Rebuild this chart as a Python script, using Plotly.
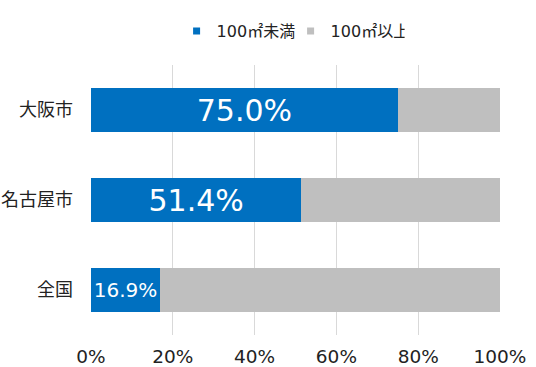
import plotly.graph_objects as go

categories = ["大阪市", "名古屋市", "全国"]
under_100 = [75.0, 51.4, 16.9]
over_100 = [25.0, 48.6, 83.1]
label_sizes = [30, 30, 20]
tick_vals = [0, 20, 40, 60, 80, 100]
tick_text = ["0%", "20%", "40%", "60%", "80%", "100%"]
series_names = ["100㎡未満", "100㎡以上"]
series_colors = ["#0070c0", "#bfbfbf"]

FONT = "DejaVu Sans, Noto Sans CJK JP"

fig = go.Figure()
fig.add_trace(go.Bar(
    y=categories, x=under_100, orientation="h", name=series_names[0],
    marker=dict(color=series_colors[0], line=dict(width=0)),
    text=[f"{v:.1f}%" for v in under_100], textposition="inside",
    insidetextanchor="middle", textangle=0, constraintext="none",
    textfont=dict(color="white", size=label_sizes, family=FONT),
    hoverinfo="skip", showlegend=False,
))
fig.add_trace(go.Bar(
    y=categories, x=over_100, orientation="h", name=series_names[1],
    marker=dict(color=series_colors[1], line=dict(width=0)),
    hoverinfo="skip", showlegend=False,
))
# legend entries with small square swatches
for name, color in zip(series_names, series_colors):
    fig.add_trace(go.Scatter(
        x=[None], y=[None], mode="markers", name=name,
        marker=dict(symbol="square", size=7, color=color),
        hoverinfo="skip",
    ))

fig.update_layout(
    width=536, height=367,
    barmode="stack", bargap=0.51,
    margin=dict(l=91, r=36, t=65, b=32),
    paper_bgcolor="white", plot_bgcolor="white",
    font=dict(family=FONT, color="#222222", size=16),
    legend=dict(orientation="h", x=0.488, xanchor="center", y=1.126, yanchor="middle",
                font=dict(size=16, family=FONT), itemwidth=30, traceorder="normal",
                entrywidth=69, entrywidthmode="pixels"),
    xaxis=dict(range=[0, 100], tickvals=tick_vals, ticktext=tick_text,
               showgrid=True, gridcolor="#d9d9d9", gridwidth=1, zeroline=False,
               showline=False, tickfont=dict(size=18.5, family=FONT), ticks="",
               ticklabelstandoff=8, automargin=False),
    yaxis=dict(categoryorder="array", categoryarray=categories, autorange="reversed",
               showgrid=False, ticks="", ticklabelstandoff=17, automargin=False,
               tickfont=dict(size=18, family=FONT)),
)

fig.write_html("out.html", config={"displayModeBar": False},
               post_script="document.body.style.margin='0';")
